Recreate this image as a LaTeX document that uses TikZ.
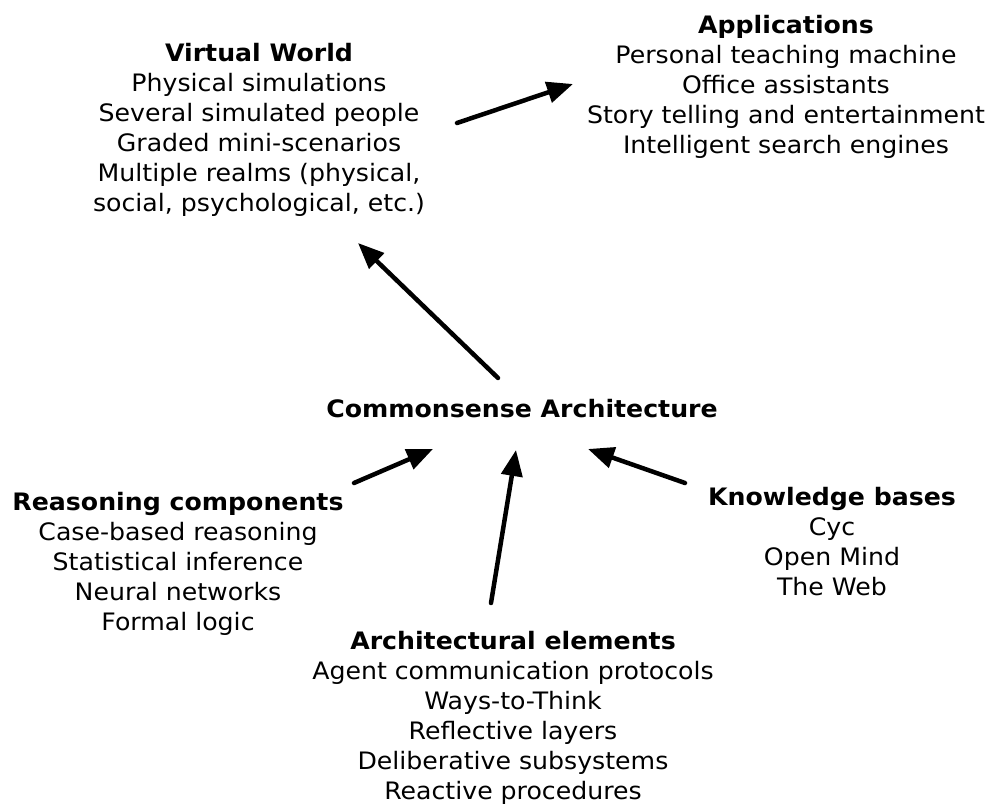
\documentclass[tikz,border=0pt]{standalone}
\usepackage{fontspec}
\setmainfont[FakeStretch=1.05,BoldFeatures={FakeStretch=1.05}]{DejaVu Sans}
\usetikzlibrary{arrows.meta}
\begin{document}
\begin{tikzpicture}[x=1pt,y=1pt,
  txt/.style={align=center,inner sep=0pt,font=\fontsize{24}{30}\selectfont},
  arr/.style={line width=4.5pt,line cap=round,-{Triangle[length=26pt,width=21pt]}}]
\useasboundingbox (0,0) rectangle (998,805);
\node[txt] (vw) at (259,675) {\textbf{Virtual World}\\Physical simulations\\Several simulated people\\Graded mini-scenarios\\Multiple realms (physical,\\social, psychological, etc.)};
\node[txt] (app) at (786,718) {\textbf{Applications}\\Personal teaching machine\\Office assistants\\Story telling and entertainment\\Intelligent search engines};
\node[txt] (ca) at (522,396) {\textbf{Commonsense Architecture}};
\node[txt] (rc) at (178,241) {\textbf{Reasoning components}\\Case-based reasoning\\Statistical inference\\Neural networks\\Formal logic};
\node[txt] (kb) at (832,263) {\textbf{Knowledge bases}\\Cyc\\Open Mind\\The Web};
\node[txt] (ae) at (513,87.5) {\textbf{Architectural elements}\\Agent communication protocols\\Ways-to-Think\\Reflective layers\\Deliberative subsystems\\Reactive procedures};
\coordinate (a1s) at (457,682); \coordinate (a1e) at (573,721);
\coordinate (a2s) at (498,427); \coordinate (a2e) at (358,562);
\coordinate (a3s) at (354,322); \coordinate (a3e) at (433,356);
\coordinate (a4s) at (491,202); \coordinate (a4e) at (516,355);
\coordinate (a5s) at (685,322); \coordinate (a5e) at (588,356);
\draw[arr] (a1s) -- (a1e);
\draw[arr] (a2s) -- (a2e);
\draw[arr] (a3s) -- (a3e);
\draw[arr] (a4s) -- (a4e);
\draw[arr] (a5s) -- (a5e);
\end{tikzpicture}
\end{document}
